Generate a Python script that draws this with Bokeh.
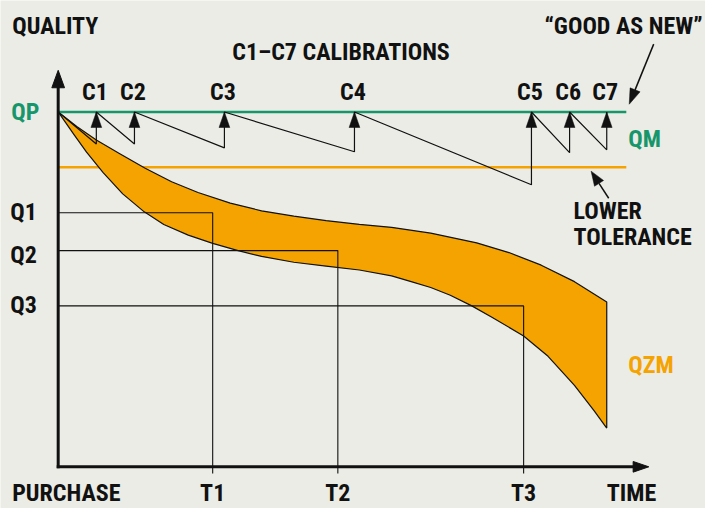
from bokeh.plotting import figure
from bokeh.models import Range1d
from bokeh.core.properties import value
from bokeh.embed import file_html
from bokeh.resources import INLINE
import math

# ---------------- data (time units from purchase, quality units above time axis) -------------
QP = 366            # quality at purchase ("good as new")
LOWER_TOL = 309     # lower tolerance
LINE_END = 581      # extent of QP / tolerance lines
AXIS_END = 604      # end of time axis (arrow tip)
Y_AXIS_END = 409    # end of quality axis (arrow tip)

cal_labels = ["C1", "C2", "C3", "C4", "C5", "C6", "C7"]
cal_times = [39, 78, 170, 303, 484, 523, 561]
cal_quality_before = [333, 333, 329, 325, 291, 324, 327]

q_labels = ["Q1", "Q2", "Q3"]
q_values = [262, 223, 166]
t_labels = ["T1", "T2", "T3"]
t_values = [158, 286, 476]

# QZM band (upper and lower boundary)
upper_t = [0, 19, 39, 63, 89, 116, 143, 176, 208, 241, 274, 308, 341, 381, 428, 461, 494, 528, 561]
upper_q = [366, 351, 337, 323, 308, 294, 283, 272, 264, 258.5, 254, 250, 247, 241, 231, 221, 208, 191, 170]
lower_t = [0, 8, 16, 29, 46, 66, 88, 108, 133, 158, 184, 208, 241, 274, 308, 341, 361, 381, 401, 423,
           444, 476, 501, 528, 548, 561]
lower_q = [366, 354.5, 343, 324.5, 303.5, 281.5, 263, 250, 239, 230.5, 223, 217, 211, 207, 203, 197, 191,
           185, 177, 166, 154, 135, 114, 84, 58, 40]

# ---------------- styles -------------
BG = "#ebece6"
GREEN = "#16966a"
ORANGE = "#f5a300"
INK = "#111111"
FONT = value("Roboto Condensed, DejaVu Sans Condensed, Roboto, sans-serif")
FS = "24px"

p = figure(width=705, height=508, x_range=Range1d(-59, 662), y_range=Range1d(-43, 481),
           output_backend="svg", toolbar_location=None, min_border=0,
           x_axis_type=None, y_axis_type=None)
p.grid.visible = False
p.outline_line_color = None
p.background_fill_color = BG
p.border_fill_color = BG

# lower tolerance line
p.line([0, LINE_END], [LOWER_TOL, LOWER_TOL], line_color=ORANGE, line_width=2.6)

# QZM band
p.patch(upper_t + lower_t[::-1], upper_q + lower_q[::-1], fill_color=ORANGE,
        line_color=INK, line_width=1.2)

# Q / T construction lines
for q, t in zip(q_values, t_values):
    p.line([0, t, t], [q, q, -7], line_color=INK, line_width=1.1)

# QP line
p.line([0, LINE_END], [QP, QP], line_color=GREEN, line_width=2.6)

# sawtooth of calibrations
sx, sy = [0], [QP]
for t, qb in zip(cal_times, cal_quality_before):
    sx += [t, t]
    sy += [qb, QP]
p.line(sx, sy, line_color=INK, line_width=1.2)
p.patches([[t - 5.5, t + 5.5, t] for t in cal_times],
          [[QP - 16, QP - 16, QP] for _ in cal_times],
          fill_color=INK, line_color=INK, line_width=0.5)

# axes with arrows
p.line([0, 0], [-1.5, Y_AXIS_END - 17], line_color=INK, line_width=3)
p.patch([-6.5, 6.5, 0], [Y_AXIS_END - 18, Y_AXIS_END - 18, Y_AXIS_END], fill_color=INK, line_color=INK)
p.line([-1.5, AXIS_END - 15], [0, 0], line_color=INK, line_width=3)
p.patch([AXIS_END - 16, AXIS_END - 16, AXIS_END], [5.5, -5.5, 0], fill_color=INK, line_color=INK)


def arrow(x0, y0, x1, y1, head=15, half=5.5):
    dx, dy = x1 - x0, y1 - y0
    L = math.hypot(dx, dy)
    ux, uy = dx / L, dy / L
    bx, by = x1 - ux * head, y1 - uy * head
    p.line([x0, bx], [y0, by], line_color=INK, line_width=1.5)
    p.patch([bx - uy * half, bx + uy * half, x1], [by + ux * half, by - ux * half, y1],
            fill_color=INK, line_color=INK, line_width=0.5)


arrow(609, 436, 584, 374, head=16, half=5.5)
arrow(563, 277, 545, 305, head=15, half=5.5)


def txt(x, y, s, size=FS, color=INK, align="left"):
    p.text(x=x, y=y, text=s, text_font=FONT, text_font_style="bold", text_font_size=size,
           text_color=color, text_align=align, text_baseline="middle")


txt([-47], [455], ["QUALITY"])
txt([178], [427.5], ["C1–C7 CALIBRATIONS"])
txt([659], [454.5], ["“GOOD AS NEW”"], align="right")
txt([t - 1.5 for t in cal_times], [387] * len(cal_times), cal_labels, align="center")
txt([-48], [365.5], ["QP"], color=GREEN)
txt([583], [338], ["QM"], color=GREEN)
txt([527, 527], [264, 237.5], ["LOWER", "TOLERANCE"])
txt([583], [105], ["QZM"], color=ORANGE)
txt([-49] * 3, [262.5, 219, 166.5], q_labels)
txt([-47], [-27.5], ["PURCHASE"])
txt(t_values, [-27.5] * 3, t_labels, align="center")
txt([561], [-27.5], ["TIME"])

open("out.html", "w").write(file_html(p, INLINE))
